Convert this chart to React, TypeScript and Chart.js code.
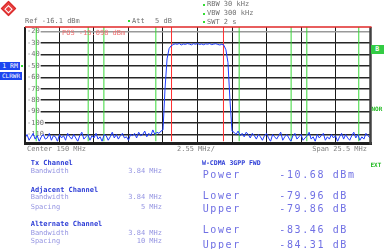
import React, { useEffect, useRef } from "react";
import { Chart, registerables } from "chart.js";

Chart.register(...registerables);

// ---- analyzer settings ----
const centerMHz = 150;
const spanMHz = 25.5;
const gridDivisions = 10;
const refLevelDbm = -16.1;
const bottomLevelDbm = -116.1;
const levelTicks = [-20, -30, -40, -50, -60, -70, -80, -90, -100, -110];

// ---- channel setup ----
const channelBandwidthMHz = 3.84;
const adjacentSpacingMHz = 5;
const alternateSpacingMHz = 10;

// ---- sweep trace (dBm), evenly spaced sweep points ----
const sweepStartMHz = 137.25;
const sweepStepMHz = 0.15;
const traceDbm = [
  -113, -110, -115, -112, -109, -114, -111, -116, -112, -110,
  -114, -113, -109, -115, -111, -112, -116, -110, -113, -111,
  -115, -109, -112, -114, -110, -113, -116, -111, -108, -114,
  -112, -110, -115, -111, -113, -109, -114, -112, -116, -110,
  -111, -115, -112, -108, -113, -110, -114, -111, -109, -113,
  -112, -115, -110, -111, -109, -113, -108, -111, -110, -107,
  -112, -109, -111, -106, -110, -108, -109, -107,
  -106, -70, -44, -35, -32.5,
  -31.5, -30.8, -31.2, -30.5, -31.8, -30.9, -31.3, -30.6, -31.0, -31.7,
  -30.7, -31.2, -30.5, -31.4, -30.9, -31.6, -30.8, -31.1, -30.6, -31.5,
  -31.0, -30.7, -31.3, -31.8, -31.2,
  -32, -36, -47, -80, -107,
  -108, -110, -107, -111, -109, -112, -108, -110, -113, -109,
  -111, -114, -110, -112, -115, -111, -109, -113, -116, -110,
  -112, -114, -111, -108, -115, -112, -110, -113, -116, -111,
  -109, -114, -112, -110, -115, -113, -111, -108, -114, -112,
  -116, -110, -113, -111, -109, -115, -112, -114, -110, -113,
  -111, -116, -112, -109, -114, -110, -113, -115, -111, -108,
  -113, -110, -115, -112, -114, -109, -111, -113,
];

// ---- result table ----
const txLabels = ["Bandwidth"];
const txValues = ["3.84 MHz"];
const adjLabels = ["Bandwidth", "Spacing"];
const adjValues = ["3.84 MHz", "5 MHz"];
const altLabels = ["Bandwidth", "Spacing"];
const altValues = ["3.84 MHz", "10 MHz"];
const resultNames = ["Power", "Lower", "Upper", "Lower", "Upper"];
const resultValues = ["-10.68 dBm", "-79.96 dB", "-79.86 dB", "-83.46 dB", "-84.31 dB"];

const mono = '"DejaVu Sans Mono", monospace';

type TxtProps = {
  x: number;
  y: number;
  size?: number;
  color?: string;
  bold?: boolean;
  align?: "left" | "right" | "center";
  ls?: number;
  children: React.ReactNode;
};

function Txt({ x, y, size = 7, color = "#707070", bold, align = "left", ls = 0, children }: TxtProps) {
  const lh = size + 2;
  const style: React.CSSProperties = {
    position: "absolute",
    top: y - lh / 2,
    fontFamily: mono,
    fontSize: size,
    lineHeight: lh + "px",
    color,
    fontWeight: bold ? "bold" : "normal",
    whiteSpace: "pre",
    letterSpacing: ls,
  };
  if (align === "right") style.right = 384 - x;
  else if (align === "center") {
    style.left = x;
    style.transform = "translateX(-50%)";
  } else style.left = x;
  return <div style={style}>{children}</div>;
}

function Dot({ x, y }: { x: number; y: number }) {
  return (
    <div
      style={{ position: "absolute", left: x - 1, top: y - 1, width: 2, height: 2, background: "#33dd33" }}
    />
  );
}

const framePlugin = {
  id: "frame",
  afterDatasetsDraw(chart: any) {
    const { ctx, chartArea: a } = chart;
    ctx.save();
    ctx.lineCap = "butt";
    // bottom
    ctx.strokeStyle = "#202020";
    ctx.lineWidth = 3;
    ctx.beginPath();
    ctx.moveTo(a.left - 1, a.bottom + 2);
    ctx.lineTo(a.right + 2, a.bottom + 2);
    ctx.stroke();
    // left
    ctx.lineWidth = 2;
    ctx.beginPath();
    ctx.moveTo(a.left, a.top);
    ctx.lineTo(a.left, a.bottom + 3);
    ctx.stroke();
    // right
    ctx.strokeStyle = "#404040";
    ctx.lineWidth = 2.5;
    ctx.beginPath();
    ctx.moveTo(a.right + 0.5, a.top);
    ctx.lineTo(a.right + 0.5, a.bottom + 3);
    ctx.stroke();
    // reference line on top
    ctx.strokeStyle = "#e02828";
    ctx.lineWidth = 1.5;
    ctx.beginPath();
    ctx.moveTo(a.left, a.top);
    ctx.lineTo(a.right + 1.5, a.top);
    ctx.stroke();
    ctx.restore();
  },
};

export default function App() {
  const ref = useRef<HTMLCanvasElement>(null);

  useEffect(() => {
    const canvas = ref.current;
    if (!canvas) return;
    const startF = centerMHz - spanMHz / 2;
    const stopF = centerMHz + spanMHz / 2;
    const gridFreqs = Array.from({ length: gridDivisions + 1 }, (_, k) => startF + (k * spanMHz) / gridDivisions);

    const tracePts = traceDbm.map((v, i) => ({ x: sweepStartMHz + i * sweepStepMHz, y: v }));

    const edge = (f: number, color: string) => ({
      data: [
        { x: f, y: bottomLevelDbm },
        { x: f, y: refLevelDbm },
      ],
      borderColor: color,
      borderWidth: 1,
      pointRadius: 0,
      order: 1,
    });

    const half = channelBandwidthMHz / 2;
    const txEdges = [centerMHz - half, centerMHz + half].map((f) => edge(f, "#ff3030"));
    const otherEdges = [adjacentSpacingMHz, alternateSpacingMHz].flatMap((s) =>
      [centerMHz - s - half, centerMHz - s + half, centerMHz + s - half, centerMHz + s + half].map((f) =>
        edge(f, "#3ad83a")
      )
    );

    const chart = new Chart(canvas, {
      type: "line",
      data: {
        datasets: [
          ...txEdges,
          ...otherEdges,
          {
            data: tracePts,
            borderColor: "#1f3cff",
            borderWidth: 1,
            pointRadius: 0,
            tension: 0,
            order: 0,
          },
        ] as any,
      },
      options: {
        animation: false,
        responsive: false,
        maintainAspectRatio: false,
        devicePixelRatio: 1,
        events: [],
        layout: { padding: { left: 25, right: 14, top: 27, bottom: 107.5 } },
        plugins: { legend: { display: false }, tooltip: { enabled: false } },
        scales: {
          x: {
            type: "linear",
            min: startF,
            max: stopF,
            afterFit: (s: any) => {
              s.height = 0;
            },
            afterBuildTicks: (s: any) => {
              s.ticks = gridFreqs.map((v) => ({ value: v }));
            },
            ticks: { display: false },
            grid: { color: "#1a1a1a", lineWidth: 1, drawTicks: false },
            border: { display: false },
          },
          y: {
            type: "linear",
            min: bottomLevelDbm,
            max: refLevelDbm,
            afterFit: (s: any) => {
              s.width = 0;
            },
            afterBuildTicks: (s: any) => {
              s.ticks = levelTicks.map((v) => ({ value: v }));
            },
            ticks: {
              mirror: true,
              padding: 2,
              font: { family: "DejaVu Sans Mono", size: 7 },
              color: "#707070",
              showLabelBackdrop: true,
              backdropColor: "#ffffff",
              backdropPadding: { top: 0, bottom: 0, left: 1, right: 1 },
              callback: (v: any) => String(v),
            },
            grid: {
              color: (c: any) => (c.tick && c.tick.value === -20 ? "#999999" : "#262626"),
              lineWidth: 1.5,
              drawTicks: false,
            },
            border: { display: false },
          },
        },
      } as any,
      plugins: [framePlugin],
    });
    return () => chart.destroy();
  }, []);

  const labelC = "#9494e2";
  const headC = "#2c3cd6";
  const bigC = "#7070e4";

  return (
    <div
      style={{
        position: "fixed",
        left: 0,
        top: 0,
        width: 384,
        height: 249,
        background: "#ffffff",
        overflow: "hidden",
      }}
    >
      <canvas ref={ref} width={384} height={249} style={{ position: "absolute", left: 0, top: 0, display: "block" }} />

      {/* logo */}
      <div
        style={{
          position: "absolute",
          left: 3,
          top: 3,
          width: 11,
          height: 11,
          transform: "rotate(45deg)",
          border: "1.5px solid #d82828",
          background: "#e84040",
          boxSizing: "border-box",
        }}
      >
        <div style={{ position: "absolute", left: 2, top: 2, width: 4, height: 4, border: "1px solid #fff" }} />
      </div>

      {/* header */}
      <Txt x={25} y={21.5}>Ref -16.1 dBm</Txt>
      <Dot x={129} y={21} />
      <Txt x={132} y={21.5}>Att</Txt>
      <Txt x={155} y={21.5}>5 dB</Txt>
      <Dot x={204} y={4.5} />
      <Txt x={207} y={4.7}>RBW 30 kHz</Txt>
      <Dot x={204} y={13.5} />
      <Txt x={207} y={13.7}>VBW 300 kHz</Txt>
      <Dot x={204} y={22} />
      <Txt x={207} y={22}>SWT 2 s</Txt>

      <Txt x={62} y={33} color="#f07070">POS -15.098 dBm</Txt>

      {/* side boxes */}
      <div
        style={{
          position: "absolute",
          left: 0,
          top: 61.5,
          width: 20,
          height: 8.5,
          background: "#1d46f0",
          color: "#fff",
          fontFamily: mono,
          fontSize: 6.5,
          lineHeight: "8.5px",
          textAlign: "center",
          whiteSpace: "pre",
        }}
      >
        1 RM
      </div>
      <div
        style={{
          position: "absolute",
          left: 0,
          top: 71.5,
          width: 22,
          height: 8,
          background: "#1d46f0",
          color: "#fff",
          fontFamily: mono,
          fontSize: 6,
          lineHeight: "8px",
          textAlign: "center",
        }}
      >
        CLRWR
      </div>
      <Dot x={21.5} y={66} />
      <div
        style={{
          position: "absolute",
          left: 371,
          top: 45,
          width: 12.5,
          height: 8.5,
          background: "#33cc44",
          color: "#fff",
          fontFamily: mono,
          fontSize: 6.5,
          fontWeight: "bold",
          lineHeight: "8.5px",
          textAlign: "center",
        }}
      >
        B
      </div>
      <Txt x={371.5} y={109} size={6} color="#22bb22" bold>NOR</Txt>
      <Txt x={370.5} y={165} size={6} color="#22bb22" bold>EXT</Txt>

      {/* axis info */}
      <Txt x={27} y={149.5} color="#808080">Center 150 MHz</Txt>
      <Txt x={196} y={149.5} color="#808080" align="center">2.55 MHz/</Txt>
      <Txt x={367} y={149.5} color="#808080" align="right">Span 25.5 MHz</Txt>

      {/* left table */}
      <Txt x={30.7} y={163.3} color={headC} bold>Tx Channel</Txt>
      <Txt x={30.7} y={171.7} color={labelC}>{txLabels[0]}</Txt>
      <Txt x={162} y={171.7} color={labelC} align="right">{txValues[0]}</Txt>

      <Txt x={30.7} y={190} color={headC} bold>Adjacent Channel</Txt>
      <Txt x={30.7} y={197.7} color={labelC}>{adjLabels[0]}</Txt>
      <Txt x={162} y={197.7} color={labelC} align="right">{adjValues[0]}</Txt>
      <Txt x={30.7} y={207.7} color={labelC}>{adjLabels[1]}</Txt>
      <Txt x={162} y={207.7} color={labelC} align="right">{adjValues[1]}</Txt>

      <Txt x={30.7} y={224.3} color={headC} bold>Alternate Channel</Txt>
      <Txt x={30.7} y={233.3} color={labelC}>{altLabels[0]}</Txt>
      <Txt x={162} y={233.3} color={labelC} align="right">{altValues[0]}</Txt>
      <Txt x={30.7} y={241.7} color={labelC}>{altLabels[1]}</Txt>
      <Txt x={162} y={241.7} color={labelC} align="right">{altValues[1]}</Txt>

      {/* right table */}
      <Txt x={202} y={163.3} size={6.5} color={headC} bold>W-CDMA 3GPP FWD</Txt>
      {[175, 196, 209.3, 230, 245].map((yy, i) => (
        <React.Fragment key={i}>
          <Txt x={202.7} y={yy} size={10} color={bigC} ls={1.6}>{resultNames[i]}</Txt>
          <Txt x={279.3} y={yy} size={10} color={bigC} ls={1.6}>{resultValues[i]}</Txt>
        </React.Fragment>
      ))}
    </div>
  );
}
